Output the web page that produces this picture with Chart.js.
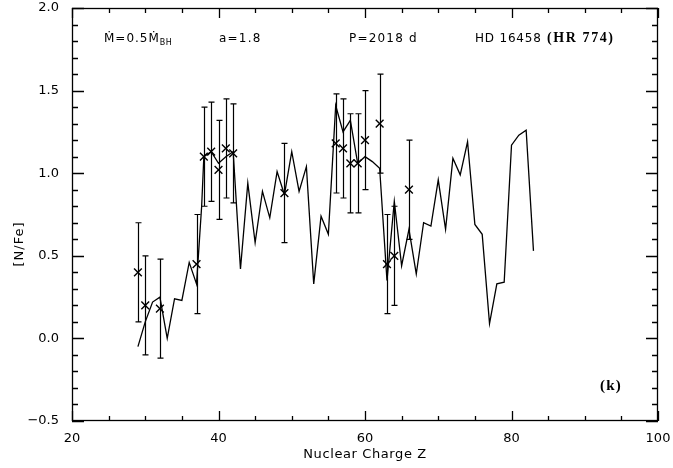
<!DOCTYPE html>
<html>
<head>
<meta charset="utf-8">
<script src="https://cdn.jsdelivr.net/npm/chart.js@4.4.1/dist/chart.umd.min.js"></script>
<style>
	body{margin:0;background:#fff;}
	canvas{display:block;}
</style>
</head>
<body>
<canvas id="chart-area" width="673" height="468"></canvas>
<script>
// model curve, [N/Fe] vs Z
var modelZ=[29,30,31,32,33,34,35,36,37,37.7,38,39,40,41,42,43,44,45,46,47,48,49,50,51,52,53,54,55,
	56,57,58,59,60,61,62,63,64,65,66,67,68,69,70,71,72,73,74,75,76,77,78,79,80,81,82,83];
var modelVal=[-0.05,0.10,0.22,0.25,0.00,0.24,0.23,0.46,0.33,0.80,1.10,1.13,1.06,1.10,1.13,0.42,0.94,0.58,0.89,0.73,1.01,0.87,1.13,0.89,1.04,0.33,0.74,0.63,
	1.41,1.25,1.32,1.06,1.10,1.07,1.03,0.35,0.83,0.44,0.66,0.39,0.70,0.68,0.96,0.66,1.09,0.99,1.19,0.69,0.63,0.09,0.33,0.34,1.17,1.23,1.26,0.53];

// observed abundances with error bars
var obsZ=[29,30,32,37,38,39,40,41,42,49,56,57,58,59,60,62,63,64,66];
var obsVal=[0.40,0.20,0.18,0.45,1.10,1.13,1.02,1.15,1.12,0.88,1.18,1.15,1.06,1.06,1.20,1.30,0.45,0.50,0.90];
var obsErr=[0.3,0.3,0.3,0.3,0.3,0.3,0.3,0.3,0.3,0.3,0.3,0.3,0.3,0.3,0.3,0.3,0.3,0.3,0.3];

var xTicks=[20,40,60,80,100];
var yTicks=[-0.5,0.0,0.5,1.0,1.5,2.0];
var xMinor=5, yMinor=0.1;

var sansFont='"DejaVu Sans", sans-serif';
var serifFont='"Liberation Serif", serif';

function txt(ctx,s,x,y,font,sp){
	ctx.font=font;
	ctx.letterSpacing=(sp||0)+'px';
	ctx.fillText(s,x,y);
	return ctx.measureText(s).width;
}

var idlAxes={
	id:'idlAxes',
	afterDatasetsDraw:function(chart){
		var ctx=chart.ctx, xs=chart.scales.x, ys=chart.scales.y;
		ctx.save();
		ctx.strokeStyle='#000';
		ctx.lineWidth=1.2;
		for (var i = 0; i < obsZ.length; i++) {
			var px=Math.round(xs.getPixelForValue(obsZ[i]))+0.5;
			var t=ys.getPixelForValue(obsVal[i]+obsErr[i]);
			var b=ys.getPixelForValue(obsVal[i]-obsErr[i]);
			ctx.beginPath();
			ctx.moveTo(px,t);ctx.lineTo(px,b);
			ctx.moveTo(px-3,t);ctx.lineTo(px+3,t);
			ctx.moveTo(px-3,b);ctx.lineTo(px+3,b);
			ctx.stroke();
		}
		ctx.restore();
	},
	afterDraw:function(chart){
		var ctx=chart.ctx, a=chart.chartArea, xs=chart.scales.x, ys=chart.scales.y;
		ctx.save();
		ctx.strokeStyle='#000';
		ctx.lineWidth=1.3;
		ctx.strokeRect(a.left+0.5,a.top+0.5,a.right-a.left-1,a.bottom-a.top-1);
		for (var j = 0; j <= 16; j++) {
			var v=xs.min+j*xMinor;
			var len=(j%4==0)?10:5;
			var px=Math.round(xs.getPixelForValue(v))+0.5;
			ctx.beginPath();
			ctx.moveTo(px,a.bottom);ctx.lineTo(px,a.bottom-len);
			ctx.moveTo(px,a.top);ctx.lineTo(px,a.top+len);
			ctx.stroke();
		}
		for (var k = 0; k <= 25; k++) {
			var val=ys.min+k*yMinor;
			var len2=(k%5==0)?12:6;
			var py=Math.round(ys.getPixelForValue(val))+0.5;
			ctx.beginPath();
			ctx.moveTo(a.left,py);ctx.lineTo(a.left+len2,py);
			ctx.moveTo(a.right,py);ctx.lineTo(a.right-len2,py);
			ctx.stroke();
		}

		ctx.fillStyle='#000';
		ctx.textBaseline='alphabetic';
		// annotations
		var w=txt(ctx,'\u1E40=0.5\u1E40',104,42,'12px '+sansFont,1.0);
		txt(ctx,'BH',104+w,45,'8px '+sansFont,0.3);
		txt(ctx,'a=1.8',219,42,'12px '+sansFont,1.2);
		txt(ctx,'P=2018 d',349,42,'12px '+sansFont,1.2);
		txt(ctx,'HD 16458',475,42,'12px '+sansFont,0.8);
		txt(ctx,'(HR 774)',547,42,'bold 14px '+serifFont,1.6);
		txt(ctx,'(k)',600,390,'bold 15px '+serifFont,1.2);

		// axis titles
		ctx.textAlign='center';
		ctx.textBaseline='middle';
		txt(ctx,'Nuclear Charge Z',(a.left+a.right)/2,455,'13px '+sansFont,0.6);
		ctx.translate(20,244);
		ctx.rotate(-Math.PI/2);
		txt(ctx,'[N/Fe]',0,0,'13px '+sansFont,1);
		ctx.restore();
	}
};

var config={
	type:'scatter',
	data:{
		datasets:[{
			label:'model',
			data:modelZ.map(function(z,i){return {x:z,y:modelVal[i]};}),
			showLine:true,
			borderColor:'#000',
			borderWidth:1.3,
			pointRadius:0,
			tension:0
		},{
			label:'observed',
			data:obsZ.map(function(z,i){return {x:z,y:obsVal[i]};}),
			showLine:false,
			pointStyle:'crossRot',
			pointRadius:5.5,
			borderColor:'#000',
			backgroundColor:'#000',
			borderWidth:1.4
		}]
	},
	options:{
		responsive:false,
		animation:false,
		layout:{padding:{top:8,right:15,left:0,bottom:0}},
		plugins:{legend:{display:false},tooltip:{enabled:false}},
		scales:{
			x:{
				type:'linear',min:20,max:100,
				afterBuildTicks:function(s){s.ticks=xTicks.map(function(v){return {value:v};});},
				afterFit:function(s){s.height=47;s.paddingLeft=0;s.paddingRight=0;},
				grid:{display:false},
				border:{display:false},
				ticks:{color:'#000',font:{family:sansFont,size:13},padding:2,maxRotation:0}
			},
			y:{
				type:'linear',min:-0.5,max:2.0,
				afterBuildTicks:function(s){s.ticks=yTicks.map(function(v){return {value:v};});},
				afterFit:function(s){s.width=72;s.paddingTop=0;s.paddingBottom=0;},
				grid:{display:false},
				border:{display:false},
				ticks:{color:'#000',font:{family:sansFont,size:13},padding:5,
					callback:function(v){return (v<0?'\u2212':'')+Math.abs(v).toFixed(1);}}
			}
		}
	},
	plugins:[idlAxes]
};

var ctx=document.getElementById('chart-area').getContext('2d');
window.myChart=new Chart(ctx,config);
</script>
</body>
</html>
